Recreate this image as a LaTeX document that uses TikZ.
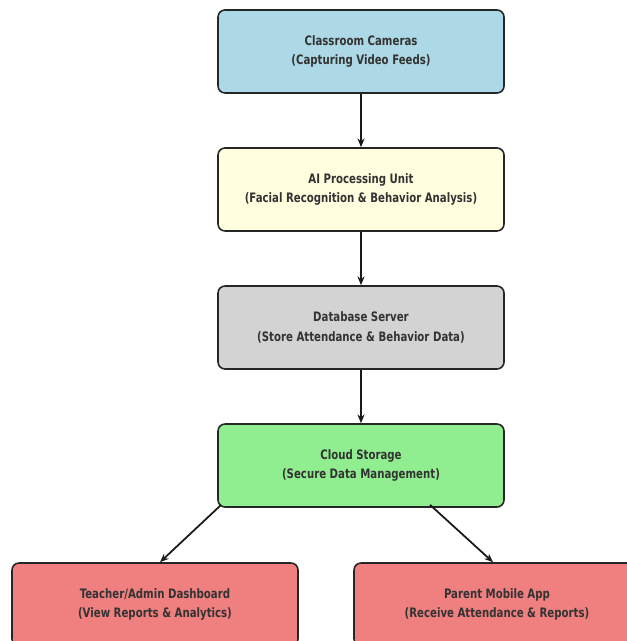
\documentclass[tikz,border=0pt]{standalone}
\usepackage{fontspec}
\setmainfont{DejaVu Sans Condensed}[FakeStretch=0.87]
\usetikzlibrary{arrows.meta}
\definecolor{boxtext}{HTML}{333333}
\definecolor{camblue}{HTML}{ADD8E6}
\definecolor{aiyellow}{HTML}{FFFFE0}
\definecolor{dbgray}{HTML}{D3D3D3}
\definecolor{cloudgreen}{HTML}{90EE90}
\definecolor{appcoral}{HTML}{F08080}

\begin{document}
\begin{tikzpicture}[node distance=2.76cm,
    unit/.style={draw=black!85,line width=0.9pt,rounded corners=4pt,
      minimum width=5.72cm,minimum height=1.66cm,align=center,
      font=\bfseries\fontsize{7.4}{11.2}\selectfont,text=boxtext},
    flow/.style={-{Stealth[length=5pt,width=4pt]},line width=1pt,black!90}]

          \useasboundingbox (0,0) rectangle (12.54,-12.82);

          \node[unit,fill=camblue]    (cam)   at (7.22,-1.03)  {Classroom Cameras\\(Capturing Video Feeds)};
          \node[unit,fill=aiyellow]   (ai)    [below of=cam]   {AI Processing Unit\\(Facial Recognition \& Behavior Analysis)};
          \node[unit,fill=dbgray]     (db)    [below of=ai]    {Database Server\\(Store Attendance \& Behavior Data)};
          \node[unit,fill=cloudgreen] (cloud) [below of=db]    {Cloud Storage\\(Secure Data Management)};
          \node[unit,fill=appcoral]   (dash)  at (3.10,-12.09) {Teacher/Admin Dashboard\\(View Reports \& Analytics)};
          \node[unit,fill=appcoral]   (app)   at (9.94,-12.09) {Parent Mobile App\\(Receive Attendance \& Reports)};

          \path[flow] (cam) edge (ai)
                      (ai)  edge (db)
                      (db)  edge (cloud);
          \draw[flow] ([shift={(0.08,0.06)}]cloud.south west) -- ([xshift=0.1cm]dash.north);
          \draw[flow] ([shift={(1.38,0.06)}]cloud.south) -- ([xshift=-0.08cm]app.north);
        \end{tikzpicture}
\end{document}
